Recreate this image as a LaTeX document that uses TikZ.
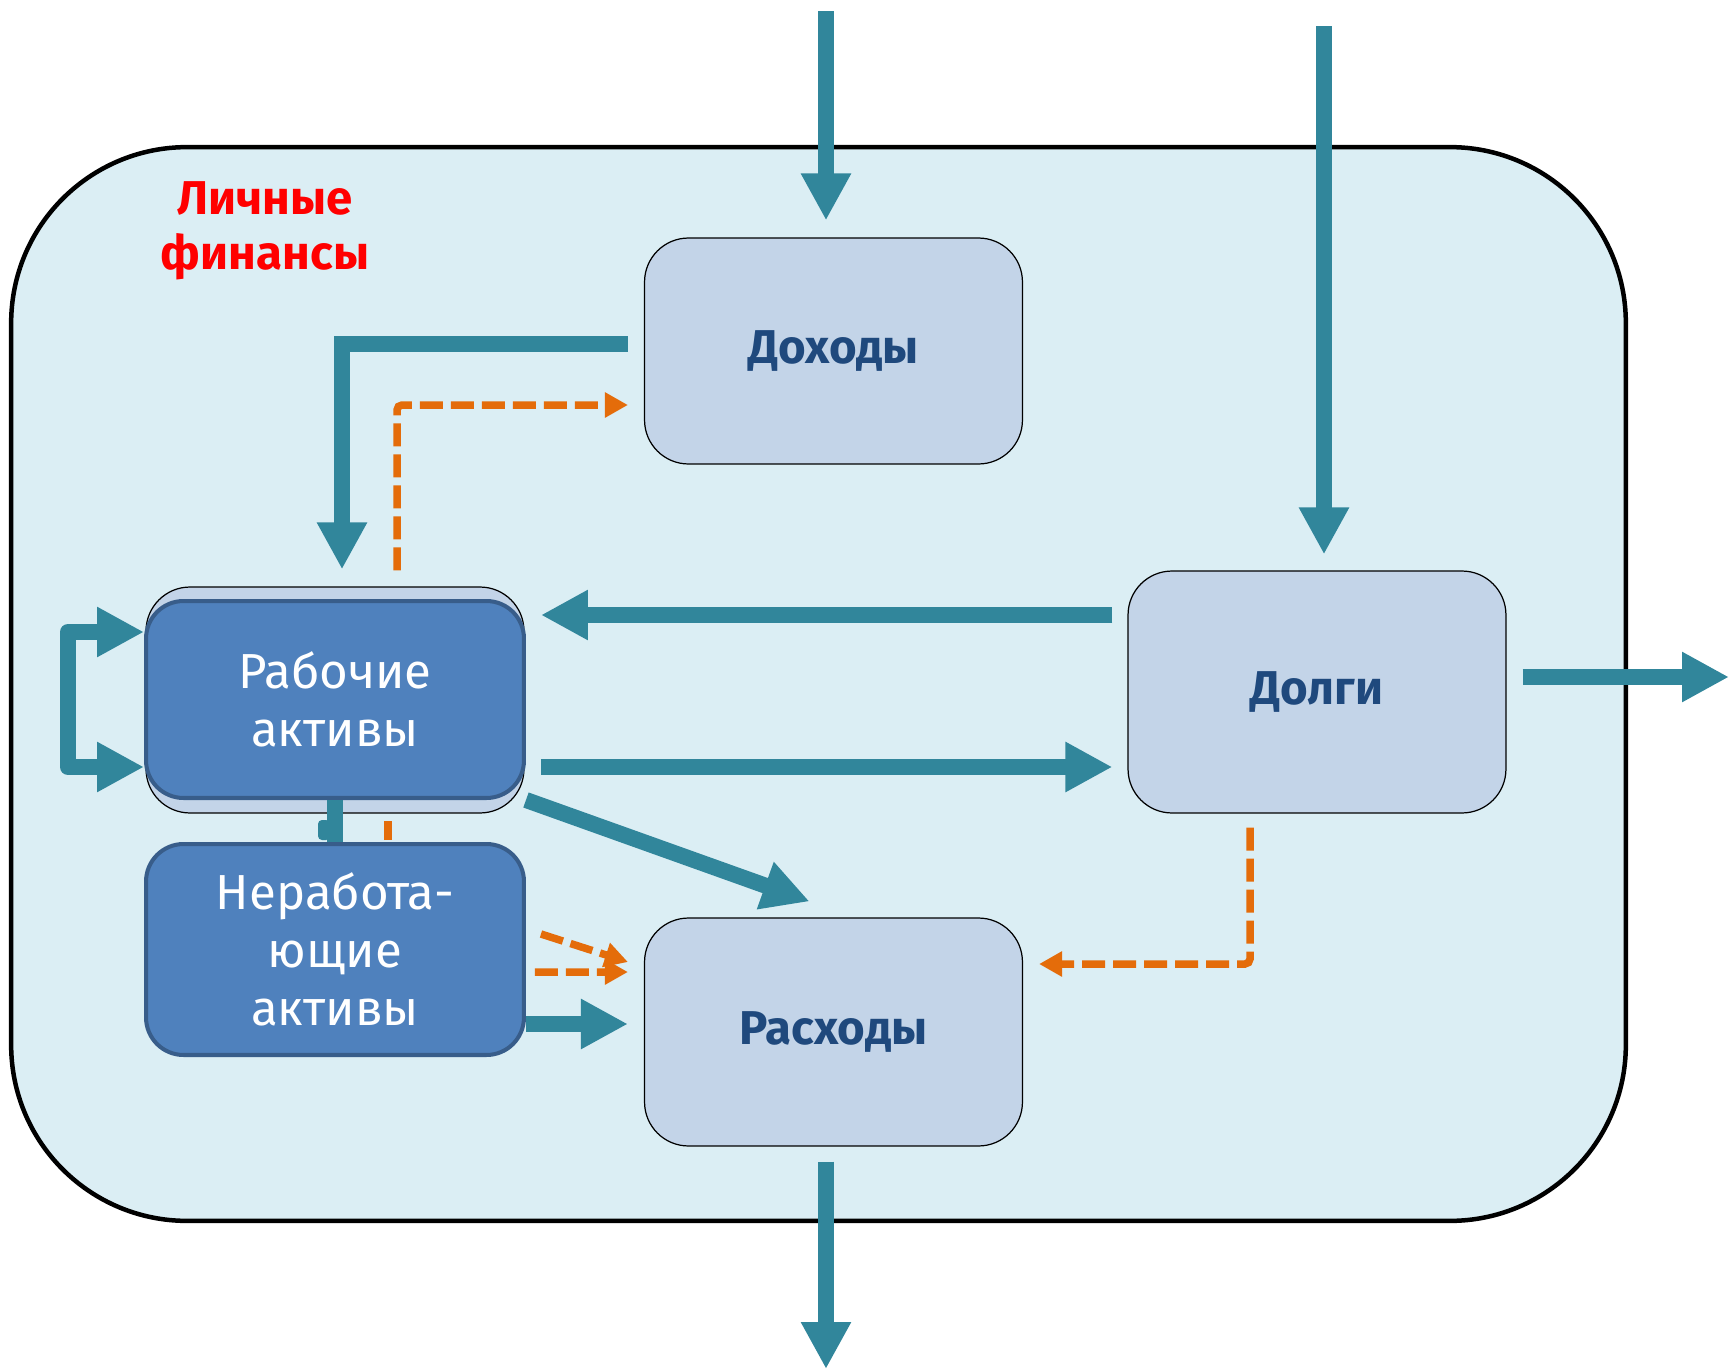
\documentclass[tikz,border=0pt]{standalone}
\usepackage{fontspec}
\setmainfont{Fira Sans}
\usetikzlibrary{arrows.meta,calc}
\definecolor{teal1}{RGB}{49,134,155}
\definecolor{outerfill}{RGB}{219,238,244}
\definecolor{boxfill}{RGB}{195,212,232}
\definecolor{darkfill}{RGB}{79,129,189}
\definecolor{darkedge}{RGB}{56,93,138}
\definecolor{txtblue}{RGB}{31,73,125}
\definecolor{orng}{RGB}{228,108,10}
\begin{document}
\begin{tikzpicture}[x=0.02cm,y=-0.02cm,
  lightbox/.style={draw=black, line width=0.7pt, fill=boxfill, rounded corners=0.88cm,
    minimum width=7.56cm, minimum height=4.52cm, inner sep=0pt,
    font=\fontsize{27}{32}\selectfont\bfseries, text=txtblue},
  darkbox/.style={draw=darkedge, line width=2.3pt, fill=darkfill, rounded corners=0.75cm,
    minimum width=7.56cm, inner sep=0pt, font=\fontsize{28}{33}\selectfont,
    text=white, align=center},
  tarrow/.style={draw=teal1, line width=0.32cm, -{Triangle[width=0.94cm,length=0.94cm]}},
  oarrow/.style={draw=orng, line width=0.15cm, dash pattern=on 0.46cm off 0.16cm,
    -{Triangle[width=0.48cm,length=0.46cm]}},
  tline/.style={draw=teal1, line width=0.32cm},
]
\useasboundingbox (0,0) rectangle (1729,1369);
% outer frame
\node[draw=black, line width=0.09cm, fill=outerfill, rounded corners=3.52cm,
  minimum width=32.3cm, minimum height=21.48cm, inner sep=0pt] (frame) at (818.5,684) {};
\node[text=red, font=\fontsize{27}{31}\selectfont\bfseries, align=center] (title) at (265,231) {Личные\\финансы};
% boxes
\node[lightbox] (dohod) at (833.5,351) {Доходы};
\node[lightbox, minimum height=4.84cm] (dolgi) at (1317,692) {Долги};
\node[lightbox, minimum height=4.56cm] (rash) at (833.5,1032) {Расходы};
\node[lightbox, minimum height=4.52cm] (rabbg) at (335,700) {};
\node[darkbox, minimum height=3.94cm] (rab) at (335,699.5) {Рабочие\\активы};
\node[darkbox, minimum height=4.22cm] (nerab) at (335,949.5) {Неработа-\\ющие\\активы};
% coordinates
\coordinate (inDoh) at (826,11);
\coordinate (inDol) at (1324,26);
\coordinate (a3c) at (342,344);
\coordinate (a4c) at (397,405);
\coordinate (r5) at (0,615);
\coordinate (r6) at (0,767);
\coordinate (outR) at (1729,677);
\coordinate (r9) at (0,1024);
\coordinate (outB) at (826,1369);
\coordinate (l1) at (68,632);
\coordinate (l2) at (68,767);
% connectors
\draw[tarrow, shorten >=0.34cm] (inDoh) -- (inDoh |- dohod.north);
\draw[tarrow, shorten >=0.32cm] (inDol) -- (inDol |- dolgi.north);
\draw[tarrow, line join=miter, shorten <=0.32cm, shorten >=0.34cm]
  (dohod.west |- a3c) -- (a3c) -- (a3c |- rabbg.north);
\draw[oarrow, rounded corners=0.1cm, shorten <=0.32cm, shorten >=0.32cm]
  (rabbg.north -| a4c) -- (a4c) -- (dohod.west |- a4c);
\draw[tarrow, shorten <=0.3cm, shorten >=0.3cm] (dolgi.west |- r5) -- (rab.east |- r5);
\draw[tarrow, shorten <=0.3cm, shorten >=0.3cm] (rab.east |- r6) -- (dolgi.west |- r6);
\draw[tarrow, shorten <=0.32cm] (dolgi.east |- outR) -- (outR);
\draw[tarrow] (rab.south east) -- ($(rash.north)+(-24,-16)$);
\draw[tarrow, shorten >=0.32cm] (nerab.east |- r9) -- (rash.west |- r9);
\draw[oarrow] ($(nerab.east)+(15,-15.5)$) -- ($(rash.west)+(-16,-70)$);
\draw[oarrow] ($(nerab.east)+(9,22.5)$) -- ($(rash.west)+(-16,-60)$);
\draw[oarrow, rounded corners=0.1cm, shorten <=0.28cm, shorten >=0.32cm]
  ($(dolgi.south)+(-67,0)$) |- ($(rash.east)+(0,-68)$);
\draw[tarrow, shorten <=0.3cm] (rash.south -| outB) -- (outB);
\draw[teal1, line width=0.32cm, line join=round,
  {Triangle[width=0.94cm,length=0.94cm]}-{Triangle[width=0.94cm,length=0.94cm]}]
  (rab.west |- l1) -- (l1) -- (l2) -- (rab.west |- l2);
\draw[tline] (rab.south) -- (nerab.north);
\fill[teal1, rounded corners=0.08cm] ($(nerab.north)+(-17,-2)$) rectangle ($(nerab.north)+(-5,-22)$);
\draw[orng, line width=0.15cm] ($(nerab.north)+(53,-2)$) -- +(0,-19);
\end{tikzpicture}
\end{document}
